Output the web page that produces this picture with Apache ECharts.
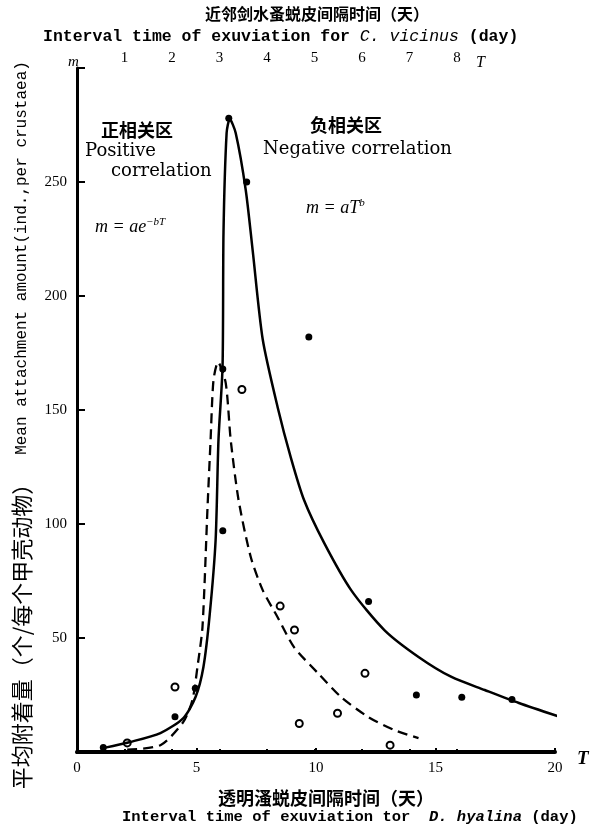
<!DOCTYPE html>
<html><head><meta charset="utf-8">
<script src="https://cdn.jsdelivr.net/npm/echarts@6/dist/echarts.min.js"></script>
<style>html,body{margin:0;padding:0;background:#fff}#c{width:590px;height:833px}</style>
</head><body><div id="c"></div>
<script>
// D. hyalina interval (day) vs mean attachment amount
const filledPoints = [[1.1,2],[4.1,15.5],[4.95,28],[6.1,97],[6.1,168],[6.35,278],[7.1,250],[9.7,182],[12.2,66],[14.2,25],[16.1,24],[18.2,23],[20.2,15.5]];
const openPoints = [[2.1,4],[4.1,28.5],[6.9,159],[8.5,64],[9.1,53.5],[9.3,12.5],[10.9,17],[12.05,34.5],[13.1,3]];
const solidCurve = [[1.13,1.8],[2.23,4.4],[3.49,8.3],[4.45,14.9],[4.96,24.1],[5.29,37.3],[5.55,60],[5.8,93],[5.92,137],[6.09,169],[6.13,228],[6.26,271.5],[6.39,277.6],[6.64,271.5],[7.06,246.5],[7.35,220],[7.77,181],[8.4,151],[8.95,129],[9.5,110.5],[10.34,91.7],[11.47,71],[12.86,53.5],[14.29,41.7],[15.67,32.9],[17.06,27.2],[18.49,21.5],[20.21,15.4]];
const dashedCurve = [[2.1,1],[3.49,3],[4.45,13.2],[4.83,22.8],[5.04,37.3],[5.25,54.8],[5.46,107],[5.59,137],[5.71,163],[5.9,171],[6.22,162],[6.43,137],[6.76,110.5],[7.27,85.5],[7.77,71],[8.4,59],[9.08,46],[10.08,34.6],[11.05,24.1],[12.18,15.4],[13.28,9.6],[14.29,6.1]];
const bottomTicks = [0,5,10,15,20];
const topTicks = [1,2,3,4,5,6,7,8];
const yTicks = [50,100,150,200,250];

const serif = '"DejaVu Serif", "Liberation Serif", serif';
const times = '"Liberation Serif", serif';
const mono = '"Liberation Mono", monospace';
const cjk = '"Noto Sans CJK SC", sans-serif';

const chart = echarts.init(document.getElementById('c'), null, {renderer:'canvas'});
chart.setOption({
  animation:false,
  backgroundColor:'#fff',
  grid:[{left:77,right:35,top:68,bottom:81},{left:77,right:133,top:68,bottom:81}],
  xAxis:[
    {gridIndex:0,type:'value',min:0,max:20,interval:5,position:'bottom',
     axisLine:{lineStyle:{color:'#000',width:4}},axisTick:{inside:true,length:4,lineStyle:{color:'#000',width:2}},
     axisLabel:{color:'#000',fontFamily:times,fontSize:15,margin:9,
       formatter:v=>bottomTicks.includes(v)?String(v):''},
     splitLine:{show:false}},
    {gridIndex:1,type:'value',min:0,max:8,interval:1,position:'top',
     axisLine:{lineStyle:{color:'#000',width:3}},axisTick:{inside:false,length:3,lineStyle:{color:'#000',width:2}},
     axisLabel:{color:'#000',fontFamily:times,fontSize:15,margin:2,showMinLabel:false,
       formatter:v=>topTicks.includes(v)?String(v):''},
     splitLine:{show:false}}
  ],
  yAxis:[
    {gridIndex:0,type:'value',min:0,max:300,interval:50,
     axisLine:{show:true,lineStyle:{color:'#000',width:3}},axisTick:{show:true,inside:true,length:8,lineStyle:{color:'#000',width:2}},
     axisLabel:{color:'#000',fontFamily:times,fontSize:15,margin:10,
       formatter:v=>yTicks.includes(v)?String(v):''},
     splitLine:{show:false}},
    {gridIndex:1,type:'value',min:0,max:300,show:false}
  ],
  series:[
    {type:'line',data:solidCurve,xAxisIndex:0,yAxisIndex:0,showSymbol:false,smooth:0.25,
     lineStyle:{color:'#000',width:2.5}},
    {type:'line',data:dashedCurve,xAxisIndex:0,yAxisIndex:0,showSymbol:false,smooth:0.25,
     lineStyle:{color:'#000',width:2.3,type:[10,6]}},
    {type:'scatter',data:filledPoints,symbol:'circle',symbolSize:7,itemStyle:{color:'#000',opacity:1}},
    {type:'scatter',data:openPoints,symbol:'circle',symbolSize:7,itemStyle:{color:'#fff',borderColor:'#000',borderWidth:2,opacity:1}}
  ],
  graphic:[
    {type:'text',x:205,y:6,style:{text:'近邻剑水蚤蜕皮间隔时间（天）',font:'bold 16px '+cjk,fill:'#000'}},
    {type:'text',x:43,y:28,style:{
      text:'{a|Interval time of exuviation for }{i|C. vicinus}{a| (day)}',
      rich:{a:{font:'bold 16.5px '+mono,fill:'#000'},i:{font:'italic 16.5px '+mono,fill:'#000'}}}},
    {type:'text',x:68,y:55,style:{text:'m',font:'italic 15px '+times,fill:'#000'}},
    {type:'text',x:476,y:55,style:{text:'T',font:'italic 16px '+times,fill:'#000'}},
    {type:'text',x:577,y:750,style:{text:'T',font:'italic bold 19px '+times,fill:'#000'}},
    {type:'text',x:218,y:789,style:{text:'透明溞蜕皮间隔时间（天）',font:'bold 18px '+cjk,fill:'#000'}},
    {type:'text',x:122,y:809,style:{
      text:'{a|Interval time of exuviation tor  }{i|D. hyalina}{a| (day)}',
      rich:{a:{font:'bold 15.5px '+mono,fill:'#000'},i:{font:'italic bold 15.5px '+mono,fill:'#000'}}}},
    {type:'text',x:22,y:631,rotation:Math.PI/2,style:{
      text:'平均附着量（个/每个甲壳动物）',align:'center',verticalAlign:'middle',
      font:'22px '+cjk,fill:'#000'}},
    {type:'text',x:22,y:258,rotation:Math.PI/2,style:{
      text:'Mean attachment amount(ind.,per crustaea)',align:'center',verticalAlign:'middle',
      font:'16px '+mono,fill:'#000'}},
    {type:'text',x:101,y:121,style:{text:'正相关区',font:'bold 18px '+cjk,fill:'#000'}},
    {type:'text',x:85,y:142,style:{text:'Positive',font:'18px '+serif,fill:'#000'}},
    {type:'text',x:111,y:162,style:{text:'correlation',font:'18px '+serif,fill:'#000'}},
    {type:'text',x:310,y:116,style:{text:'负相关区',font:'bold 18px '+cjk,fill:'#000'}},
    {type:'text',x:263,y:140,style:{text:'Negative correlation',font:'18px '+serif,fill:'#000'}},
    {type:'text',x:95,y:217,style:{
      text:'{t|m = ae}{s|−bT}',
      rich:{t:{font:'italic 18px '+times,fill:'#000'},s:{font:'italic 11px '+times,fill:'#000',verticalAlign:'top',padding:[0,0,9,0]}}}},
    {type:'text',x:306,y:198,style:{
      text:'{t|m = aT}{s|b}',
      rich:{t:{font:'italic 18px '+times,fill:'#000'},s:{font:'italic 11px '+times,fill:'#000',verticalAlign:'top',padding:[0,0,9,0]}}}}
  ]
});
</script></body></html>
